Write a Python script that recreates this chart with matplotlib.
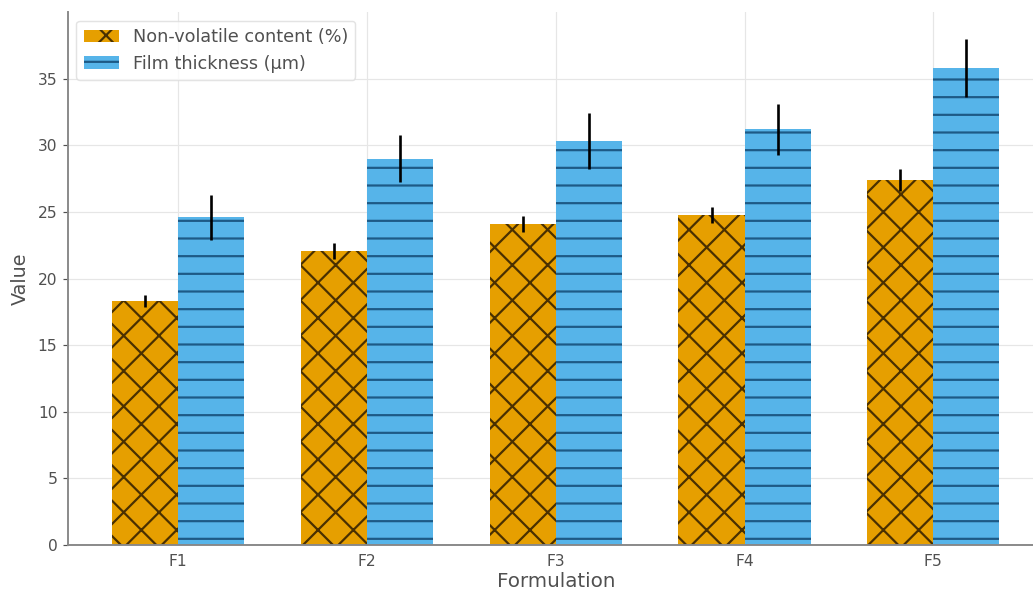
import matplotlib.pyplot as plt
import numpy as np

plt.rcParams["hatch.linewidth"] = 1.5

formulations = ["F1", "F2", "F3", "F4", "F5"]
non_volatile = [18.3, 22.1, 24.1, 24.8, 27.4]
non_volatile_err = [0.45, 0.6, 0.6, 0.6, 0.8]
film_thickness = [24.6, 29.0, 30.3, 31.2, 35.8]
film_thickness_err = [1.7, 1.75, 2.1, 1.9, 2.2]

x = np.arange(len(formulations))
width = 0.35
text_color = "#505050"
dpi = 106

fig = plt.figure(figsize=(1033 / dpi, 592 / dpi), dpi=dpi)
ax = fig.add_axes([0.0655, 0.0794, 0.945, 0.9003])

ax.bar(x - width / 2, non_volatile, width, yerr=non_volatile_err,
       color="#E69F00", hatch="x", edgecolor="#4a3000", linewidth=0,
       error_kw=dict(ecolor="black", elinewidth=1.8, capsize=0),
       label="Non-volatile content (%)", zorder=2)
ax.bar(x + width / 2, film_thickness, width, yerr=film_thickness_err,
       color="#56B4E9", hatch="-", edgecolor="#1d5a86", linewidth=0,
       error_kw=dict(ecolor="black", elinewidth=1.8, capsize=0),
       label="Film thickness (µm)", zorder=2)

ax.set_xticks(x)
ax.set_xticklabels(formulations)
ax.set_xlim(-0.585, 4.585)
ax.set_ylim(0, 40)
ax.set_yticks(range(0, 40, 5))

ax.set_xlabel("Formulation", fontsize=13.5, color=text_color, labelpad=2)
ax.set_ylabel("Value", fontsize=13, color=text_color, labelpad=5)
ax.tick_params(colors=text_color, labelsize=10.5)
ax.tick_params(axis="x", length=0, pad=6)

ax.grid(True, color="#e6e6e6", linewidth=0.8, zorder=0)
ax.set_axisbelow(True)
for side in ["top", "right"]:
    ax.spines[side].set_visible(False)
for side in ["left", "bottom"]:
    ax.spines[side].set_color("#888888")
    ax.spines[side].set_linewidth(1.3)

leg = ax.legend(loc="upper left", fontsize=12, frameon=True,
                borderaxespad=0.5, handlelength=2.0)
leg.get_frame().set_edgecolor("#dddddd")
for t in leg.get_texts():
    t.set_color(text_color)

fig.savefig("out.png", dpi=dpi)
